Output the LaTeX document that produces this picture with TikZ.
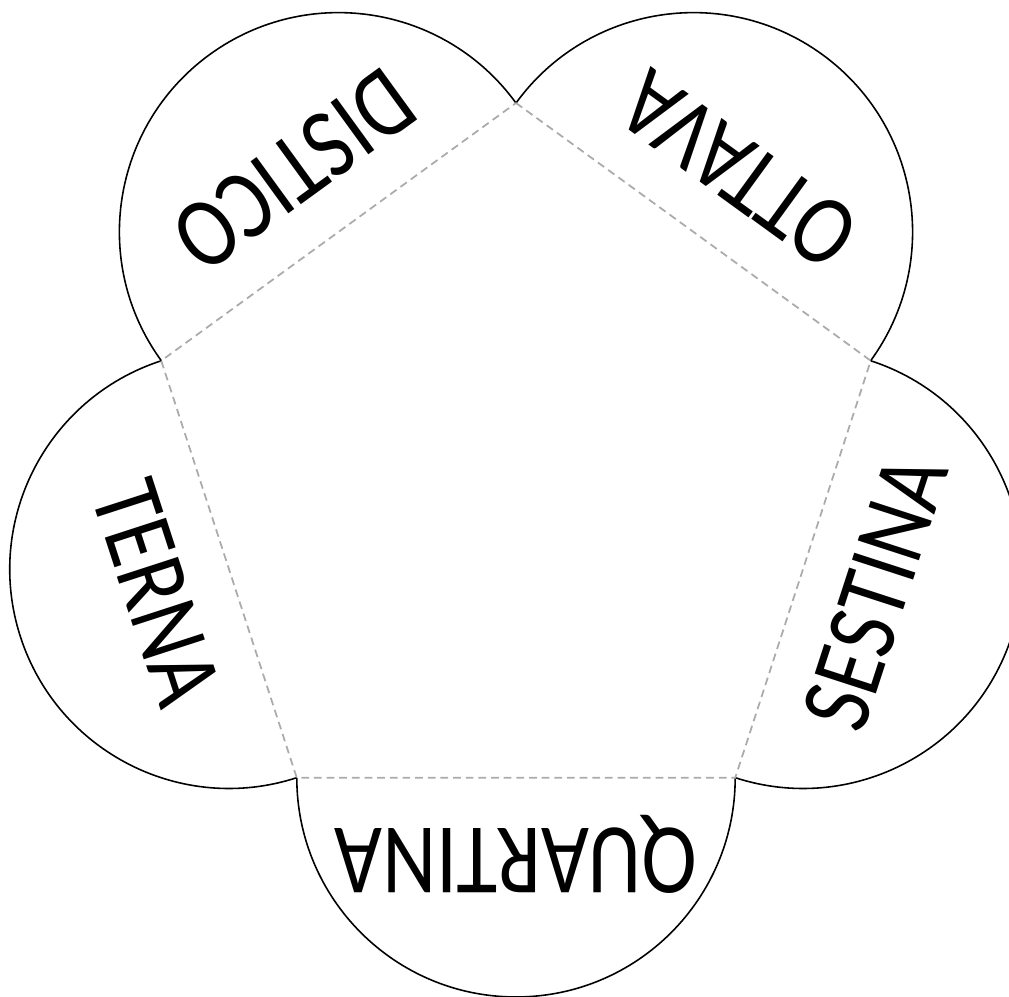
\documentclass[tikz,border=0pt]{standalone}
\usepackage{fontspec}
\setsansfont{Carlito}
\newfontfamily\flapfont[FakeStretch=0.83]{Carlito}
\usetikzlibrary{calc}
\definecolor{foldgrey}{HTML}{ABABAB}

\begin{document}
\begin{tikzpicture}[
  font=\sffamily,
  fold/.style={draw=foldgrey, line width=0.5pt, dash pattern=on 2.2pt off 1.4pt},
  flap/.style={draw=black, line width=0.45pt},
  lbl/.style={font=\flapfont\fontsize{28.5}{30}\selectfont, inner sep=0pt},
]
\def\rad{3.73}   % circumradius of the pentagon
\def\half{2.192} % half a side, radius of each flap
\def\apo{3.018}  % apothem

% ---------------- frame --------------------------------------------
\useasboundingbox (0,0) rectangle (10.09,-9.97);
\clip (0,0) rectangle (10.09,-9.97);

\coordinate (c) at (5.16,-4.76);
\coordinate (v1) at ($(c)+(90:\rad)$);
\coordinate (v2) at ($(c)+(18:\rad)$);
\coordinate (v3) at ($(c)+(-54:\rad)$);
\coordinate (v4) at ($(c)+(-126:\rad)$);
\coordinate (v5) at ($(c)+(162:\rad)$);

% ---------------- flaps --------------------------------------------
\foreach \ang/\txt/\rot in {-90/QUARTINA/180, -18/SESTINA/72, 54/OTTAVA/144,
                            126/DISTICO/216, 198/TERNA/288} {
  \draw[flap] ($(c)+(\ang:\apo)$) ++(\ang-90:\half)
    arc[start angle=\ang-90, end angle=\ang+90, radius=\half];
  \node[lbl, rotate=\rot] (\txt) at ($(c)+(\ang:3.78)$) {\txt};
}

% ---------------- folds --------------------------------------------
\draw[fold] (v1) -- (v2) -- (v3) -- (v4) -- (v5) -- cycle;

\end{tikzpicture}
\end{document}
